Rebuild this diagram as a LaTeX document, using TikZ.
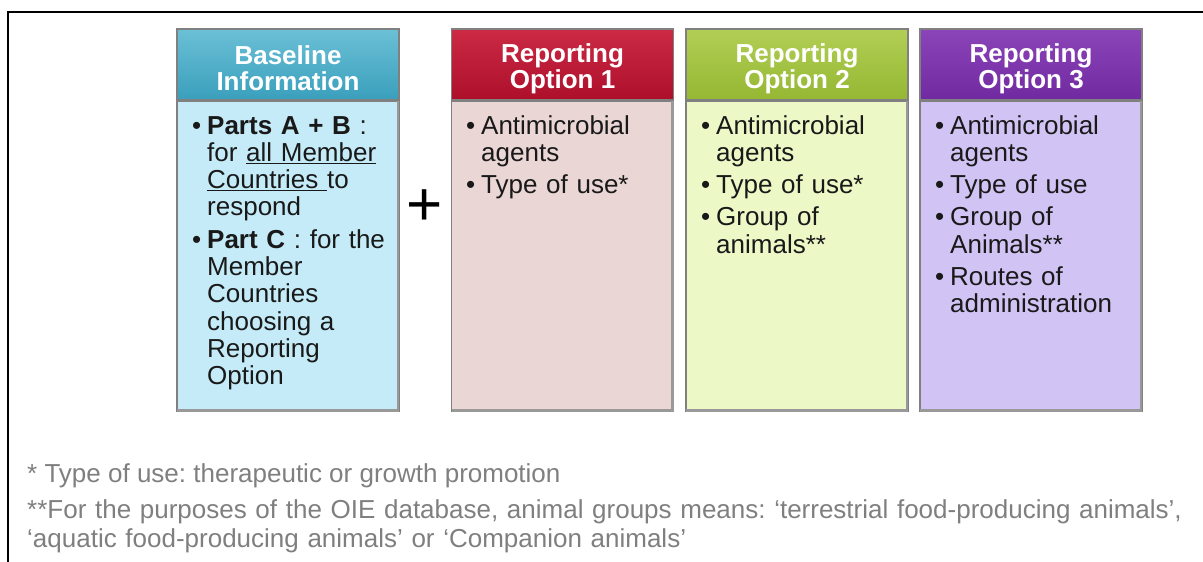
\documentclass[tikz,border=0pt]{standalone}
\usepackage{fontspec}
\setmainfont{Liberation Sans}
\usetikzlibrary{positioning}
\frenchspacing
\definecolor{basetop}{HTML}{6BC0D6}
\definecolor{basebot}{HTML}{3A9FBC}
\definecolor{basefill}{HTML}{C4EBF7}
\definecolor{onetop}{HTML}{CC2A45}
\definecolor{onebot}{HTML}{AD0F2B}
\definecolor{onefill}{HTML}{EBD6D6}
\definecolor{twotop}{HTML}{B2CF55}
\definecolor{twobot}{HTML}{95B733}
\definecolor{twofill}{HTML}{EDF8C7}
\definecolor{threetop}{HTML}{8C45B8}
\definecolor{threebot}{HTML}{7029A0}
\definecolor{threefill}{HTML}{D1C4F4}
\definecolor{notegray}{HTML}{7F7F7F}
\newcommand{\itembul}{\makebox[15pt][l]{\textbullet}}
\newcommand{\itemind}{\hspace*{15pt}}
\newcommand{\headstrut}{\rule{0pt}{27pt}}
\tikzset {
  % column headers
  head/.style = {draw=black!50, line width=1.3pt, minimum width=222pt, minimum height=71pt,
    inner sep=0pt, align=center, text=white, font=\bfseries\fontsize{26}{26}\selectfont},
  % column bodies
  body/.style = {draw=black!50, line width=1.3pt, minimum width=222pt, minimum height=310pt, inner sep=0pt},
  % bullet lists inside the bodies
  items/.style = {anchor=base west, inner sep=0pt, text width=205pt, align=left,
    text=black!90, font=\fontsize{26}{27.3}\selectfont},
  % footnotes
  note/.style = {anchor=base west, inner sep=0pt, text=notegray, font=\fontsize{26}{29}\selectfont},
}

\begin{document}
\begin{tikzpicture}[x=1pt, y=-1pt]
      \useasboundingbox (0,0) rectangle (1203,562);
      \draw[line width=1.5pt] (8,562) -- (8,12) -- (1203,12);

      \node[head, top color=basetop, bottom color=basebot] (basehead) at (288,64.5) {\headstrut Baseline\\Information};
      \node[head, top color=onetop, bottom color=onebot] (onehead) at (562.5,64.5) {\headstrut Reporting\\Option 1};
      \node[head, top color=twotop, bottom color=twobot] (twohead) at (797,64.5) {\headstrut Reporting\\Option 2};
      \node[head, top color=threetop, bottom color=threebot] (threehead) at (1031,64.5) {\headstrut Reporting\\Option 3};

      \node[body, fill=basefill, below=0pt of basehead] (basebody) {};
      \node[body, fill=onefill, below=0pt of onehead] (onebody) {};
      \node[body, fill=twofill, below=0pt of twohead] (twobody) {};
      \node[body, fill=threefill, below=0pt of threehead] (threebody) {};

      % darker lower and right edges
      \foreach \col in {base, one, two, three} {
        \draw[black!40, line width=2.5pt] ([xshift=-1.5pt]\col body.north east) -- ([xshift=-1.5pt, yshift=1.5pt]\col body.south east)
          -- ([xshift=1pt, yshift=1.5pt]\col body.south west);
      }

      \node[items] (basetext) at (192,134) {\itembul\textbf{Parts A + B} :\\
        \itemind for \underline{all Member}\\
        \itemind\underline{Countries }to\\
        \itemind respond\\[5pt]
        \itembul\textbf{Part C} : for the\\
        \itemind Member\\
        \itemind Countries\\
        \itemind choosing a\\
        \itemind Reporting\\
        \itemind Option};
      \node[items] (onetext) at (466,134) {\itembul Antimicrobial\\
        \itemind agents\\[5pt]
        \itembul Type of use*};
      \node[items] (twotext) at (701,134) {\itembul Antimicrobial\\
        \itemind agents\\[5pt]
        \itembul Type of use*\\[5pt]
        \itembul Group of\\
        \itemind animals**};
      \node[items] (threetext) at (935,134) {\itembul Antimicrobial\\
        \itemind agents\\[5pt]
        \itembul Type of use\\[5pt]
        \itembul Group of\\
        \itemind Animals**\\[5pt]
        \itembul Routes of\\
        \itemind administration};

      \node (plus) at (425,208) {\fontsize{62}{62}\selectfont +};

      \node[note] (note1) at (27,482) {* Type of use: therapeutic or growth promotion};
      \node[note, text width=1170pt, align=left] (note2) at (27,518) {**For the purposes of the OIE database, animal groups means: ‘terrestrial food-producing animals’,\\
        ‘aquatic food-producing animals’ or ‘Companion animals’};
\end{tikzpicture}
\end{document}
